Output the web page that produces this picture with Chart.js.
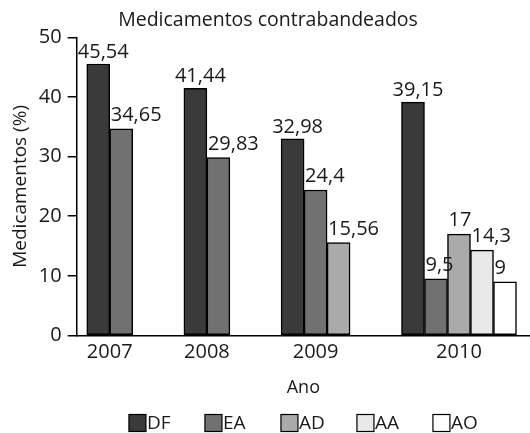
<!DOCTYPE html>
<html>
<head>
<meta charset="utf-8">
<script src="https://cdn.jsdelivr.net/npm/chart.js@4.4.0/dist/chart.umd.min.js"></script>
<style>
  html, body { margin: 0; padding: 0; background: #fff; }
  #wrap { width: 530px; height: 433px; }
</style>
</head>
<body>
<div id="wrap"><canvas id="chart"></canvas></div>
<script>
// data (labels above the bars)
var years = ['2007', '2008', '2009', '2010'];
var seriesNames = ['DF', 'EA', 'AD', 'AA', 'AO'];
var dfValues = [45.54, 41.44, 32.98, 39.15];
var eaValues = [34.65, 29.83, 24.4, 9.5];
var adValues = [null, null, 15.56, 17];
var aaValues = [null, null, null, 14.3];
var aoValues = [null, null, null, 9];
var yTicks = [0, 10, 20, 30, 40, 50];

var allValues = [dfValues, eaValues, adValues, aaValues, aoValues];
var colors = ['#3a3a3a', '#717171', '#aaaaaa', '#e9e9e9', '#ffffff'];
var FONT = '"Open Sans"';
var TEXT = '#1a1a1a';

// groups are packed bar by bar with the same gap between them,
// so the centre of each year on the x scale depends on how many bars it has
var LEAD = 0.43, GAP = 2.2;
var centers = [];
var pos = LEAD;
years.forEach(function (yr, i) {
    var n = allValues.filter(function (v) { return v[i] != null; }).length;
    centers.push(pos + n / 2);
    pos += n + GAP;
});

var datasets = seriesNames.map(function (name, k) {
    return {
        label: name,
        data: years.map(function (yr, i) { return { x: centers[i], y: allValues[k][i] }; }),
        backgroundColor: colors[k],
        borderColor: '#000',
        borderWidth: 1.5,
        borderSkipped: false,
        barThickness: 23,
        skipNull: true
    };
});

var valueLabels = {
    id: 'valueLabels',
    afterDatasetsDraw: function (chart) {
        var ctx = chart.ctx;
        ctx.save();
        ctx.font = '20px ' + FONT;
        ctx.fillStyle = TEXT;
        ctx.textBaseline = 'alphabetic';
        chart.data.datasets.forEach(function (ds, di) {
            var meta = chart.getDatasetMeta(di);
            meta.data.forEach(function (bar, i) {
                var v = ds.data[i].y;
                if (v == null) return;
                var txt = String(v).replace('.', ',');
                if (di === 0) {
                    ctx.textAlign = 'center';
                    ctx.fillText(txt, bar.x + 5, bar.y - 6);
                } else {
                    ctx.textAlign = 'left';
                    ctx.fillText(txt, bar.x - bar.width / 2 + 1, bar.y - 8);
                }
            });
        });
        ctx.restore();
    }
};

// legend row under the axis title: square swatch with the name right after it
var legendRow = {
    id: 'legendRow',
    afterDraw: function (chart) {
        var ctx = chart.ctx;
        var area = chart.chartArea;
        var step = 76, box = 17;
        var sets = chart.data.datasets;
        ctx.save();
        ctx.font = '19px ' + FONT;
        var lastW = box + 1 + ctx.measureText(sets[sets.length - 1].label).width;
        var total = step * (sets.length - 1) + lastW;
        var x0 = area.left + (area.width - total) / 2;
        var cy = chart.height - 10;
        sets.forEach(function (ds, k) {
            var x = x0 + k * step;
            ctx.fillStyle = ds.backgroundColor;
            ctx.fillRect(x, cy - box / 2, box, box);
            ctx.lineWidth = 1.2;
            ctx.strokeStyle = '#000';
            ctx.strokeRect(x, cy - box / 2, box, box);
            ctx.fillStyle = TEXT;
            ctx.textAlign = 'left';
            ctx.textBaseline = 'middle';
            ctx.fillText(ds.label, x + box + 1, cy + 1);
        });
        ctx.restore();
    }
};

new Chart(document.getElementById('chart'), {
    type: 'bar',
    data: { datasets: datasets },
    plugins: [valueLabels, legendRow],
    options: {
        responsive: true,
        maintainAspectRatio: false,
        animation: false,
        layout: { padding: { left: 6, right: 0, top: 0, bottom: 31 } },
        plugins: {
            title: {
                display: true,
                text: 'Medicamentos contrabandeados',
                color: TEXT,
                font: { family: FONT, size: 19.5, weight: 'normal' },
                padding: { top: 9, bottom: 5 }
            },
            legend: { display: false },
            tooltip: { enabled: false }
        },
        scales: {
            x: {
                type: 'linear',
                offset: false,
                min: 0,
                max: 19.6,
                grid: { display: false, drawTicks: false },
                border: { color: '#000', width: 1.5 },
                afterBuildTicks: function (scale) {
                    scale.ticks = centers.map(function (c) { return { value: c }; });
                },
                ticks: {
                    color: TEXT,
                    font: { family: FONT, size: 20 },
                    padding: 5,
                    maxRotation: 0,
                    autoSkip: false,
                    callback: function (value, index) { return years[index]; }
                },
                title: {
                    display: true,
                    text: 'Ano',
                    color: TEXT,
                    font: { family: FONT, size: 18 },
                    padding: { top: 8, bottom: 3 }
                }
            },
            y: {
                min: 0,
                max: 50,
                afterBuildTicks: function (scale) {
                    scale.ticks = yTicks.map(function (t) { return { value: t }; });
                },
                grid: { drawOnChartArea: false, tickLength: 9, color: '#000', lineWidth: 1.5 },
                border: { color: '#000', width: 1.5 },
                ticks: {
                    color: TEXT,
                    font: { family: FONT, size: 20 },
                    padding: 6
                },
                title: {
                    display: true,
                    text: 'Medicamentos (%)',
                    color: TEXT,
                    font: { family: FONT, size: 19 },
                    padding: { top: 3, bottom: 1 }
                }
            }
        }
    }
});
</script>
</body>
</html>
